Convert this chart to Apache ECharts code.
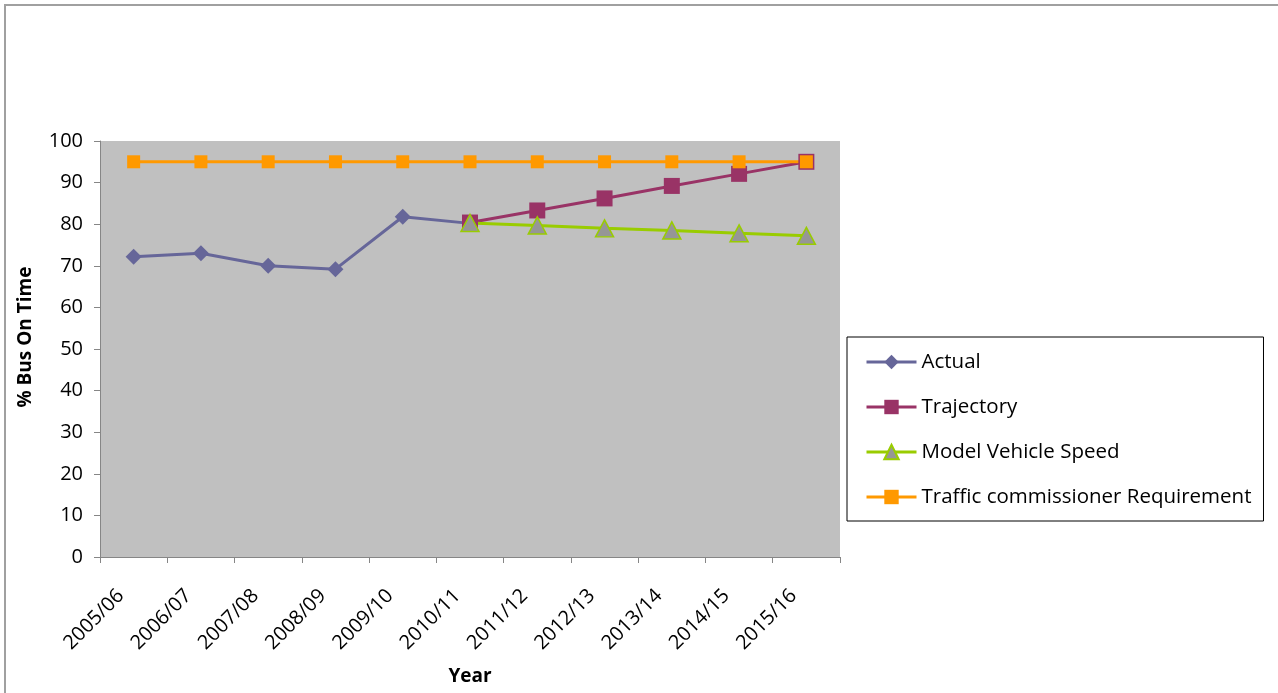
<!DOCTYPE html>
<html>
<head>
<meta charset="utf-8">
<title>% Bus On Time</title>
<script src="https://cdn.jsdelivr.net/npm/echarts@6/dist/echarts.min.js"></script>
<style>
  html, body { margin: 0; padding: 0; background: #ffffff; }
  #chart { width: 1278px; height: 693px; }
</style>
</head>
<body>
<div id="chart"></div>
<script>
// Financial years on the category axis
const years = ['2005/06', '2006/07', '2007/08', '2008/09', '2009/10', '2010/11',
               '2011/12', '2012/13', '2013/14', '2014/15', '2015/16'];

// Percentage of buses running on time (null where a series has no value)
const actual = [72.2, 73.0, 70.0, 69.2, 81.8, 80.2, null, null, null, null, null];
const trajectory = [null, null, null, null, null, 80.4, 83.3, 86.2, 89.2, 92.1, 95.0];
const modelVehicleSpeed = [null, null, null, null, null, 80.3, 79.7, 79.0, 78.5, 77.8, 77.2];
const trafficCommissioner = [95, 95, 95, 95, 95, 95, 95, 95, 95, 95, 95];

const yTicks = { min: 0, max: 100, interval: 10 };

const FONT = '"Open Sans", Lato, sans-serif';

const chart = echarts.init(document.getElementById('chart'), null, { renderer: 'canvas' });

chart.setOption({
  backgroundColor: '#ffffff',
  animation: false,
  textStyle: { fontFamily: FONT, color: '#000000' },
  graphic: [{
    type: 'rect',
    silent: true,
    shape: { x: 5, y: 5, width: 1400, height: 1000 },
    style: { fill: 'none', stroke: '#a0a0a0', lineWidth: 2 }
  }],
  grid: {
    left: 100, top: 141, width: 740, height: 416,
    show: true, backgroundColor: '#C0C0C0', borderWidth: 0
  },
  legend: {
    orient: 'vertical',
    left: 847, top: 337,
    padding: [14, 12, 13, 18],
    itemGap: 23,
    itemWidth: 50,
    itemHeight: 18,
    lineStyle: { width: 3 },
    borderColor: '#000000',
    borderWidth: 1,
    backgroundColor: '#ffffff',
    textStyle: { fontFamily: FONT, fontSize: 20.5, color: '#000000', lineHeight: 22 },
    data: ['Actual', 'Trajectory', 'Model Vehicle Speed', 'Traffic commissioner Requirement']
  },
  xAxis: {
    type: 'category',
    data: years,
    boundaryGap: true,
    name: 'Year',
    nameLocation: 'middle',
    nameGap: 110,
    nameTextStyle: { fontFamily: FONT, fontSize: 19, fontWeight: 'bold', color: '#000000' },
    axisLine: { lineStyle: { color: '#868686', width: 1 } },
    axisTick: { show: true, length: 6, lineStyle: { color: '#868686' } },
    axisLabel: {
      rotate: 45, interval: 0, margin: 23, padding: [0, 18, 0, 0],
      fontFamily: FONT, fontSize: 20, color: '#000000'
    },
    splitLine: { show: false }
  },
  yAxis: {
    type: 'value',
    min: yTicks.min, max: yTicks.max, interval: yTicks.interval,
    name: '% Bus On Time',
    nameLocation: 'middle',
    nameGap: 65,
    nameTextStyle: {
      fontFamily: FONT, fontSize: 19, fontWeight: 'bold', color: '#000000',
      padding: [0, 0, 0, 24]
    },
    axisLine: { show: true, lineStyle: { color: '#868686', width: 1 } },
    axisTick: { show: true, length: 6, lineStyle: { color: '#868686' } },
    axisLabel: { margin: 17, fontFamily: FONT, fontSize: 20, color: '#000000' },
    splitLine: { show: false }
  },
  series: [
    {
      name: 'Actual',
      type: 'line',
      data: actual,
      symbol: 'diamond',
      symbolSize: 16,
      color: '#666699',
      lineStyle: { color: '#666699', width: 3 },
      itemStyle: { color: '#666699' },
      connectNulls: false
    },
    {
      name: 'Trajectory',
      type: 'line',
      data: trajectory,
      symbol: 'rect',
      symbolSize: 16,
      color: '#993366',
      lineStyle: { color: '#993366', width: 3 },
      itemStyle: { color: '#993366' }
    },
    {
      name: 'Model Vehicle Speed',
      type: 'line',
      data: modelVehicleSpeed,
      symbol: 'triangle',
      symbolSize: [18, 17],
      color: '#99CC00',
      lineStyle: { color: '#99CC00', width: 3 },
      itemStyle: { color: '#969696', borderColor: '#99CC00', borderWidth: 1.5 }
    },
    {
      name: 'Traffic commissioner Requirement',
      type: 'line',
      data: trafficCommissioner,
      symbol: 'rect',
      symbolSize: 13,
      color: '#FF9900',
      lineStyle: { color: '#FF9900', width: 3 },
      itemStyle: { color: '#FF9900' }
    }
  ]
});
</script>
</body>
</html>
